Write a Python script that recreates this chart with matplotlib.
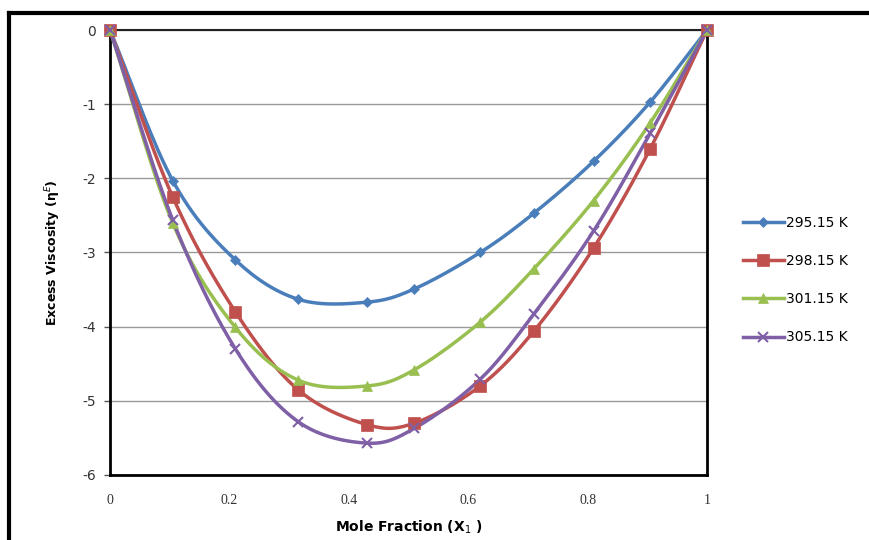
import numpy as np
import matplotlib
matplotlib.use('Agg')
from matplotlib import pyplot as plt
from matplotlib.lines import Line2D

x = [0, 0.105, 0.21, 0.315, 0.43, 0.51, 0.62, 0.71, 0.81, 0.905, 1]
labels = ['295.15 K', '298.15 K', '301.15 K', '305.15 K']
eta_295 = [0, -2.03, -3.10, -3.63, -3.67, -3.49, -3.00, -2.47, -1.77, -0.97, 0]
eta_298 = [0, -2.25, -3.80, -4.85, -5.32, -5.30, -4.80, -4.06, -2.94, -1.60, 0]
eta_301 = [0, -2.60, -4.01, -4.72, -4.80, -4.58, -3.94, -3.22, -2.30, -1.25, 0]
eta_305 = [0, -2.56, -4.30, -5.28, -5.57, -5.37, -4.71, -3.83, -2.71, -1.39, 0]

colors = ['#4A7EBB', '#C0504D', '#98BF50', '#7F5FA6']
markers = ['D', 's', '^', 'x']
msizes = [5, 8, 7, 7]


def smooth(xs, ys, n=30):
    # catmull-rom through the points, roughly like excel's smoothed line
    xs = np.asarray(xs, float)
    ys = np.asarray(ys, float)
    px = np.concatenate([[2 * xs[0] - xs[1]], xs, [2 * xs[-1] - xs[-2]]])
    py = np.concatenate([[2 * ys[0] - ys[1]], ys, [2 * ys[-1] - ys[-2]]])
    t = np.linspace(0, 1, n)
    ox, oy = [], []
    for i in range(1, len(px) - 2):
        for p, o in ((px, ox), (py, oy)):
            p0, p1, p2, p3 = p[i - 1], p[i], p[i + 1], p[i + 2]
            o.extend(0.5 * (2 * p1 + (-p0 + p2) * t
                            + (2 * p0 - 5 * p1 + 4 * p2 - p3) * t ** 2
                            + (-p0 + 3 * p1 - 3 * p2 + p3) * t ** 3))
    return ox, oy


fig = plt.figure(figsize=(8.69, 5.4), dpi=100)
ax = fig.add_axes([110 / 869, 1 - 475 / 540, 597 / 869, 445 / 540])

series = [eta_295, eta_298, eta_301, eta_305]
handles = []
for ys, c, m, ms, lab in zip(series, colors, markers, msizes, labels):
    sx, sy = smooth(x, ys)
    ax.plot(sx, sy, color=c, lw=2.5, zorder=3)
    mew = 1.5 if m == 'x' else 0.5
    ax.plot(x, ys, ls='none', marker=m, ms=ms, color=c, mec=c, mew=mew, zorder=4, clip_on=False)
    handles.append(Line2D([], [], color=c, lw=2.5, marker=m, ms=ms, mew=mew, label=lab))

ax.set_xlim(0, 1)
ax.set_ylim(-6, 0)
ax.set_xticks(np.arange(0, 1.01, 0.2))
ax.set_xticklabels(['0', '0.2', '0.4', '0.6', '0.8', '1'], family='Liberation Serif', fontsize=10, color='#333333')
ax.set_yticks(range(-6, 1))
ax.set_yticklabels([str(v) for v in range(-6, 1)], fontsize=10, color='#333333')
ax.tick_params(axis='x', length=0, pad=14)
ax.tick_params(axis='y', length=4, width=1, color='#555555', pad=6)
ax.yaxis.grid(True, color='#999999', lw=1)
ax.set_axisbelow(True)
for s in ['left', 'bottom', 'right']:
    ax.spines[s].set_linewidth(2)
    ax.spines[s].set_color('black')
ax.spines['top'].set_linewidth(1.5)
ax.spines['top'].set_color('#222222')

ax.set_xlabel('Mole Fraction (X$_1$ )', fontsize=10, fontweight='bold', labelpad=8)
ax.set_ylabel('Excess Viscosity (\u03b7$^E$)', fontsize=9, fontweight='bold', labelpad=14)

fig.legend(handles=handles, loc='center left', bbox_to_anchor=(730 / 869, 1 - 280 / 540),
           frameon=False, fontsize=10, handlelength=3, labelspacing=1.75, handletextpad=0.1)

# chart area border
fig.add_artist(Line2D([9 / 869, 1], [1 - 13 / 540] * 2, color='black', lw=3))
fig.add_artist(Line2D([9 / 869] * 2, [0, 1 - 13 / 540], color='black', lw=3))

fig.savefig('out.png', dpi=100)
